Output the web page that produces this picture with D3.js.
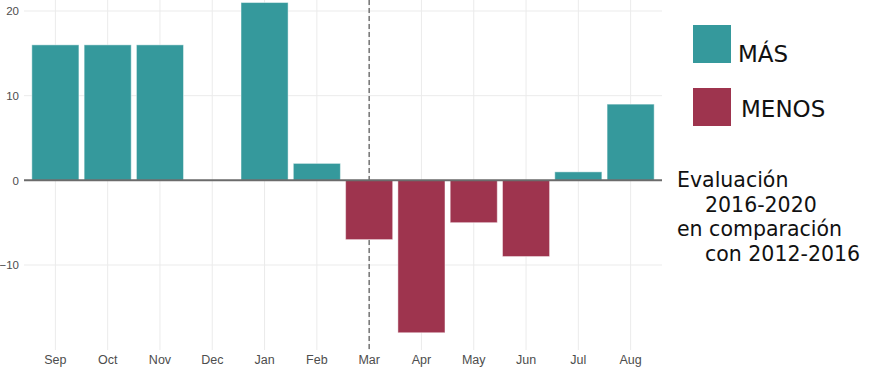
<!DOCTYPE html>
<html><head><meta charset="utf-8">
<script src="https://cdn.jsdelivr.net/npm/d3@7"></script>
<style>body{margin:0;background:#fff}svg{display:block}</style>
</head><body>
<svg id="c" width="879" height="380"></svg>
<script>
const months = ["Sep","Oct","Nov","Dec","Jan","Feb","Mar","Apr","May","Jun","Jul","Aug"];
const values = [16,16,16,0,21,2,-7,-18,-5,-9,1,9];
const yTicks = [20,10,0,-10];
const legendLabels = ["MÁS","MENOS"];
const noteLines = ["Evaluación","2016-2020","en comparación","con 2012-2016"];
const markerMonth = "Mar";

const teal = "#35999c", maroon = "#9e344e";
const svg = d3.select("#c");
const L = 24, R = 662, T = 0, B = 350;

const x = d3.scaleBand().domain(months).range([L, R]).paddingInner(0.1).paddingOuter(0.15);
const y = d3.scaleLinear().domain([-10, 20]).range([265, 11]);
const cx = m => x(m) + x.bandwidth()/2;

// grid
svg.append("g").selectAll("line").data(yTicks).join("line")
  .attr("x1", L).attr("x2", R).attr("y1", d => y(d)).attr("y2", d => y(d))
  .attr("stroke", "#ebebeb").attr("stroke-width", 1);
svg.append("g").selectAll("line").data(months).join("line")
  .attr("x1", cx).attr("x2", cx).attr("y1", T).attr("y2", B)
  .attr("stroke", "#ebebeb").attr("stroke-width", 1);

// dashed marker
svg.append("line").attr("x1", cx(markerMonth)).attr("x2", cx(markerMonth))
  .attr("y1", T).attr("y2", B).attr("stroke", "#555").attr("stroke-width", 1.2)
  .attr("stroke-dasharray", "5,3");

// bars
const data = months.map((m, i) => ({m, v: values[i]}));
svg.append("g").selectAll("rect").data(data.filter(d => d.v !== 0)).join("rect")
  .attr("x", d => x(d.m)).attr("width", x.bandwidth())
  .attr("y", d => y(Math.max(0, d.v))).attr("height", d => Math.abs(y(d.v) - y(0)))
  .attr("fill", d => d.v > 0 ? teal : maroon)
  .attr("stroke", "#ffffff").attr("stroke-opacity", 0.45).attr("stroke-width", 1);

// zero line
svg.append("line").attr("x1", L).attr("x2", R).attr("y1", y(0)).attr("y2", y(0))
  .attr("stroke", "#6b6b6b").attr("stroke-width", 2);

// axes labels
const xAxis = d3.axisBottom(x).tickSize(0).tickPadding(0);
const gx = svg.append("g").attr("transform", `translate(0,${B+5})`).call(xAxis);
gx.select(".domain").remove();
gx.selectAll("text").attr("font-family", "Liberation Sans, Arial, sans-serif")
  .attr("font-size", 12.5).attr("fill", "#4d4d4d").attr("dy", "0.71em");

const yAxis = d3.axisLeft(y).tickValues(yTicks).tickSize(0).tickPadding(0);
const gy = svg.append("g").attr("transform", `translate(19,0)`).call(yAxis);
gy.select(".domain").remove();
gy.selectAll("text").attr("font-family", "Liberation Sans, Arial, sans-serif")
  .attr("font-size", 11.5).attr("fill", "#4d4d4d");

// legend
const leg = svg.append("g");
const legY = [25, 88], legTx = [738, 741], legBase = [62, 117];
[teal, maroon].forEach((c, i) => {
  leg.append("rect").attr("x", 693).attr("y", legY[i]).attr("width", 38).attr("height", 38).attr("fill", c);
  leg.append("text").attr("x", legTx[i]).attr("y", legBase[i]).text(legendLabels[i])
    .attr("font-family", "DejaVu Sans, sans-serif").attr("font-size", 23).attr("fill", "#111");
});

// note
const noteX = [677, 705, 677, 705], noteY = [187, 211.5, 236, 260.5];
svg.append("g").selectAll("text").data(noteLines).join("text")
  .attr("x", (d, i) => noteX[i]).attr("y", (d, i) => noteY[i]).text(d => d)
  .attr("font-family", "DejaVu Sans, sans-serif").attr("font-size", 20.5).attr("fill", "#111");
</script>
</body></html>
